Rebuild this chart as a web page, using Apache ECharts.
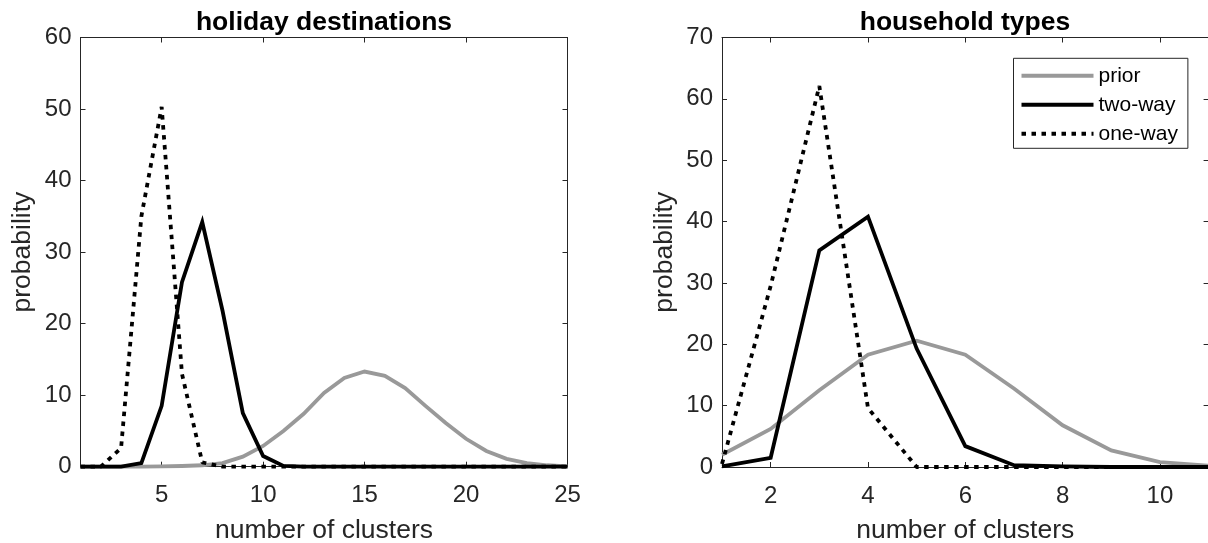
<!DOCTYPE html>
<html>
<head>
<meta charset="utf-8">
<script src="https://cdn.jsdelivr.net/npm/echarts@6/dist/echarts.min.js"></script>
<style>
html,body{margin:0;padding:0;background:#fff;}
#c{width:1208px;height:543px;}
</style>
</head>
<body>
<div id="c"></div>
<script>
// ---- data ----
const titles = ['holiday destinations', 'household types'];
const seriesNames = ['prior', 'two-way', 'one-way'];

const xHoliday = [1,2,3,4,5,6,7,8,9,10,11,12,13,14,15,16,17,18,19,20,21,22,23,24,25];
const priorHoliday  = [0,0,0,0.02,0.05,0.1,0.2,0.5,1.4,2.9,5.0,7.4,10.3,12.4,13.3,12.7,11.0,8.5,6.1,3.9,2.2,1.1,0.5,0.2,0.05];
const twoWayHoliday = [0,0,0,0.5,8.5,25.8,34.2,21.8,7.5,1.5,0.1,0,0,0,0,0,0,0,0,0,0,0,0,0,0];
const oneWayHoliday = [0,0,2.6,35,50.3,13,0.6,0,0,0,0,0,0,0,0,0,0,0,0,0,0,0,0,0,0];

const xHousehold = [1,2,3,4,5,6,7,8,9,10,11];
const priorHousehold  = [2.0,6.2,12.5,18.3,20.6,18.3,12.8,6.8,2.7,0.8,0.2];
const twoWayHousehold = [0.1,1.5,35.3,40.8,19.3,3.4,0.3,0.1,0,0,0];
const oneWayHousehold = [0.5,29.5,62.1,9.6,0,0,0,0,0,0,0];

const xTicksHoliday = [5,10,15,20,25];
const xTicksHousehold = [2,4,6,8,10];
const yMaxHoliday = 60, yMaxHousehold = 70, yStep = 10;

// ---- styles ----
const FONT = "'Liberation Sans', Arial, Helvetica, sans-serif";
const AX = '#262626';
const GRAY = '#999999';
const LW = 3.8;
const DASH = [4.5, 5.5];
const DOT_ICON = 'path://M0,0h4.5v4h-4.5z M10,0h4.5v4h-4.5z M20,0h4.5v4h-4.5z M30,0h4.5v4h-4.5z M40,0h4.5v4h-4.5z M50,0h4.5v4h-4.5z M60,0h4.5v4h-4.5z M70,0h2v4h-2z';

function pairs(xs, ys){ return xs.map((x,i)=>[x, ys[i]]); }

function xAxes(gridIndex, min, max, ticks){
  return [
    {
      type:'value', gridIndex, min, max, position:'bottom',
      axisLine:{show:true, onZero:false, lineStyle:{color:AX, width:1}},
      axisTick:{show:true, inside:true, length:5, customValues:ticks, lineStyle:{color:AX, width:1}},
      axisLabel:{show:true, customValues:ticks, margin:17, color:AX, fontSize:24, fontFamily:FONT},
      splitLine:{show:false},
      name:'number of clusters', nameLocation:'middle', nameGap:50,
      nameTextStyle:{color:AX, fontSize:26.5, fontFamily:FONT}
    },
    {
      type:'value', gridIndex, min, max, position:'top',
      axisLine:{show:true, onZero:false, lineStyle:{color:AX, width:1}},
      axisTick:{show:true, inside:true, length:5, customValues:ticks, lineStyle:{color:AX, width:1}},
      axisLabel:{show:false},
      splitLine:{show:false}
    }
  ];
}
function yAxes(gridIndex, max){
  return [
    {
      type:'value', gridIndex, min:0, max, interval:yStep, position:'left',
      axisLine:{show:true, onZero:false, lineStyle:{color:AX, width:1}},
      axisTick:{show:true, inside:true, length:5, lineStyle:{color:AX, width:1}},
      axisLabel:{show:true, margin:9, color:AX, fontSize:24, fontFamily:FONT},
      splitLine:{show:false},
      name:'probability', nameLocation:'middle', nameGap:44,
      nameTextStyle:{color:AX, fontSize:26.5, fontFamily:FONT}
    },
    {
      type:'value', gridIndex, min:0, max, interval:yStep, position:'right',
      axisLine:{show:true, onZero:false, lineStyle:{color:AX, width:1}},
      axisTick:{show:true, inside:true, length:5, lineStyle:{color:AX, width:1}},
      axisLabel:{show:false},
      splitLine:{show:false}
    }
  ];
}
function lineSeries(name, xi, yi, data, color, type){
  return {
    type:'line', name, xAxisIndex:xi, yAxisIndex:yi, data,
    showSymbol:false, symbol:'none', clip:false, animation:false,
    lineStyle:{color, width:LW, type, cap:'butt', join: type === 'solid' ? 'miter' : 'bevel'},
    itemStyle:{color}
  };
}

const chart = echarts.init(document.getElementById('c'), null, {renderer:'canvas'});
chart.setOption({
  backgroundColor:'#ffffff',
  animation:false,
  title:[
    {text:titles[0], left:324, top:9, textAlign:'center', padding:0,
     textStyle:{fontSize:26.5, fontWeight:'bold', color:'#000', fontFamily:FONT, lineHeight:27}},
    {text:titles[1], left:965, top:9, textAlign:'center', padding:0,
     textStyle:{fontSize:26.5, fontWeight:'bold', color:'#000', fontFamily:FONT, lineHeight:27}}
  ],
  grid:[
    {left:80.5, top:37.5, width:487, height:429.2, containLabel:false, outerBoundsMode:'none'},
    {left:722, top:37.5, width:486.6, height:429.5, containLabel:false, outerBoundsMode:'none'}
  ],
  xAxis:[...xAxes(0, xHoliday[0], xHoliday[xHoliday.length-1], xTicksHoliday),
         ...xAxes(1, xHousehold[0], xHousehold[xHousehold.length-1], xTicksHousehold)],
  yAxis:[...yAxes(0, yMaxHoliday), ...yAxes(1, yMaxHousehold)],
  legend:{
    show:true, orient:'vertical', left:1013.5, top:58.3,
    data:[
      {name:seriesNames[0], icon:'rect', itemStyle:{color:GRAY}},
      {name:seriesNames[1], icon:'rect', itemStyle:{color:'#000'}},
      {name:seriesNames[2], icon:DOT_ICON, itemStyle:{color:'#000'}}
    ],
    itemWidth:72, itemHeight:4, itemGap:8,
    padding:[7,10,4,8],
    backgroundColor:'#fff', borderColor:AX, borderWidth:1, borderRadius:0,
    textStyle:{color:'#000', fontSize:21, fontFamily:FONT, lineHeight:21},
    selectedMode:false
  },
  series:[
    lineSeries(seriesNames[0], 0, 0, pairs(xHoliday, priorHoliday), GRAY, 'solid'),
    lineSeries(seriesNames[1], 0, 0, pairs(xHoliday, twoWayHoliday), '#000', 'solid'),
    lineSeries(seriesNames[2], 0, 0, pairs(xHoliday, oneWayHoliday), '#000', DASH),
    lineSeries(seriesNames[0], 2, 2, pairs(xHousehold, priorHousehold), GRAY, 'solid'),
    lineSeries(seriesNames[1], 2, 2, pairs(xHousehold, twoWayHousehold), '#000', 'solid'),
    lineSeries(seriesNames[2], 2, 2, pairs(xHousehold, oneWayHousehold), '#000', DASH)
  ]
});
</script>
</body>
</html>
